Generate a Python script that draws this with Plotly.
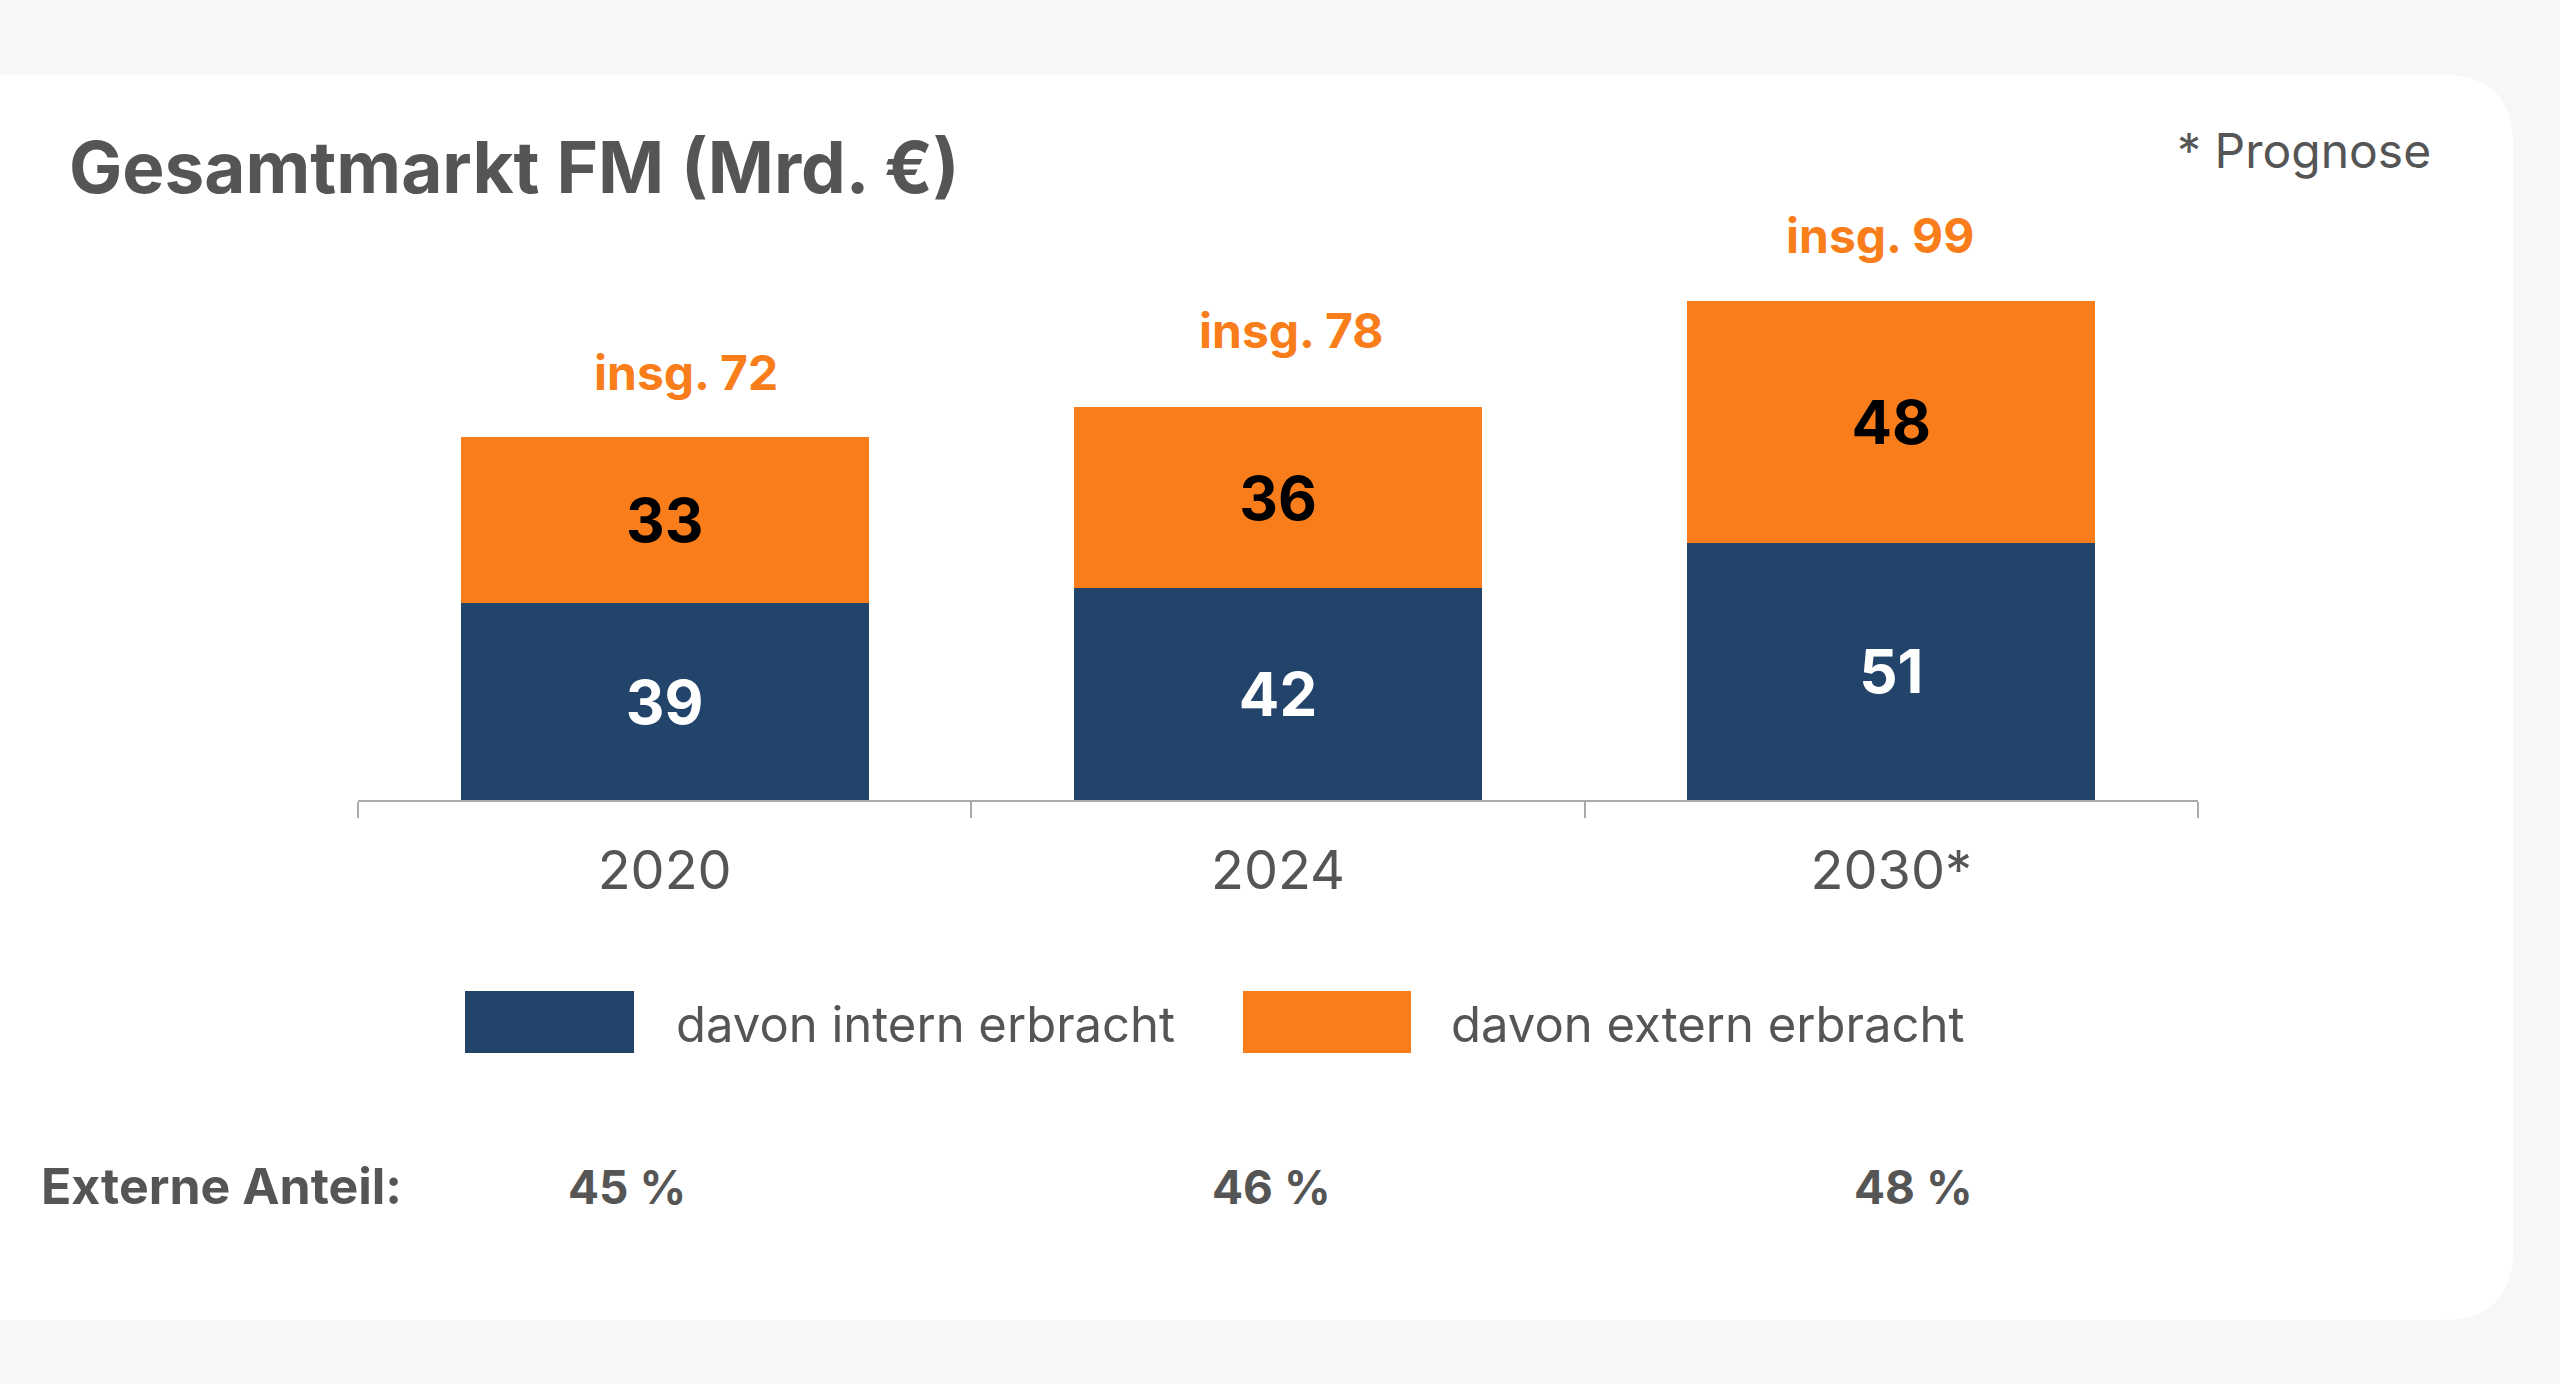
import plotly.graph_objects as go

# data
years = ["2020", "2024", "2030*"]
intern = [39, 42, 51]
extern = [33, 36, 48]
totals = [72, 78, 99]
extern_share = [45, 46, 48]

NAVY = "#22446b"
ORANGE = "#f97e1b"
GRAY = "#555555"
FONT = "Inter, Open Sans, sans-serif"

W, H = 2560, 1384
L, R, T, B = 358, 362, 195, 584
PW, PH = W - L - R, H - T - B


# pixel -> paper helpers for the decorations around the plot
def px(x):
    return (x - L) / PW


def py(y):
    return (H - B - y) / PH


fig = go.Figure()
fig.add_trace(go.Bar(x=years, y=intern, name="davon intern erbracht",
                     marker=dict(color=NAVY, line=dict(width=0)),
                     text=intern, textposition="inside", insidetextanchor="middle",
                     textangle=0,
                     textfont=dict(family=FONT, size=60, color="white", weight=700)))
fig.add_trace(go.Bar(x=years, y=extern, name="davon extern erbracht",
                     marker=dict(color=ORANGE, line=dict(width=0)),
                     text=extern, textposition="inside", insidetextanchor="middle",
                     textangle=0,
                     textfont=dict(family=FONT, size=60, color="black", weight=700)))

# totals above the bars (category index, since "2020" would be read as a number)
tot_dx = [21, 13, -11]
tot_dy = [65, 76, 65]
for i, tot in enumerate(totals):
    fig.add_annotation(x=i, y=tot, text=f"insg. {tot}", showarrow=False,
                       yanchor="middle", xshift=tot_dx[i], yshift=tot_dy[i],
                       font=dict(family=FONT, size=48, color=ORANGE, weight=700))

# share of external services below the legend
fig.add_annotation(xref="paper", yref="paper", x=px(39), y=py(1186), text="Externe Anteil:",
                   showarrow=False, xanchor="left", yanchor="middle",
                   font=dict(family=FONT, size=50, color=GRAY, weight=700))
shifts = [-38, -7, 22]
for i, (share, dx) in enumerate(zip(extern_share, shifts)):
    fig.add_annotation(x=i, xref="x", yref="paper", y=py(1187), text=f"{share} %",
                       showarrow=False, xshift=dx, yanchor="middle",
                       font=dict(family=FONT, size=46, color=GRAY, weight=700))

fig.add_annotation(xref="paper", yref="paper", x=px(2433), y=py(150), text="* Prognose",
                   showarrow=False, xanchor="right", yanchor="middle",
                   font=dict(family=FONT, size=48, color=GRAY))

# custom legend with large swatches
legend_items = [(NAVY, "davon intern erbracht", 465, 634, 674),
                (ORANGE, "davon extern erbracht", 1243, 1411, 1449)]
for color, label, x0, x1, xt in legend_items:
    fig.add_shape(type="rect", xref="paper", yref="paper",
                  x0=px(x0), x1=px(x1), y0=py(991), y1=py(1053),
                  fillcolor=color, line=dict(width=0))
    fig.add_annotation(xref="paper", yref="paper", x=px(xt), y=py(1024), text=label,
                       showarrow=False, xanchor="left", yanchor="middle",
                       font=dict(family=FONT, size=49, color=GRAY))

# white card with rounded right corners
cx0, cx1, cy0, cy1, rad = -60, 2513, 75, 1320, 70
card = (f"M {px(cx0)},{py(cy0)} L {px(cx1 - rad)},{py(cy0)} "
        f"Q {px(cx1)},{py(cy0)} {px(cx1)},{py(cy0 + rad)} "
        f"L {px(cx1)},{py(cy1 - rad)} "
        f"Q {px(cx1)},{py(cy1)} {px(cx1 - rad)},{py(cy1)} "
        f"L {px(cx0)},{py(cy1)} Z")
fig.add_shape(type="path", path=card, xref="paper", yref="paper",
              fillcolor="white", line=dict(width=0), layer="below")

fig.update_layout(
    width=W, height=H,
    margin=dict(l=L, r=R, t=T, b=B),
    barmode="stack", bargap=0.335,
    showlegend=False,
    paper_bgcolor="#f7f7f7", plot_bgcolor="rgba(0,0,0,0)",
    title=dict(text="<b>Gesamtmarkt FM (Mrd. €)</b>", x=69 / W, xanchor="left",
               y=1 - 168 / H, yanchor="middle", yref="container",
               font=dict(family=FONT, size=71, color=GRAY)),
    xaxis=dict(type="category", range=[-0.5, 2.5], tickson="boundaries",
               ticks="outside", ticklen=16, tickwidth=2, tickcolor="#aaaaaa",
               showline=True, linecolor="#aaaaaa", linewidth=2, showgrid=False,
               ticklabelstandoff=22,
               tickfont=dict(family=FONT, size=54, color=GRAY)),
    yaxis=dict(range=[0, 120], visible=False, showgrid=False),
)

fig.write_html("out.html", config={"displayModeBar": False},
               post_script="document.body.style.margin='0';")
